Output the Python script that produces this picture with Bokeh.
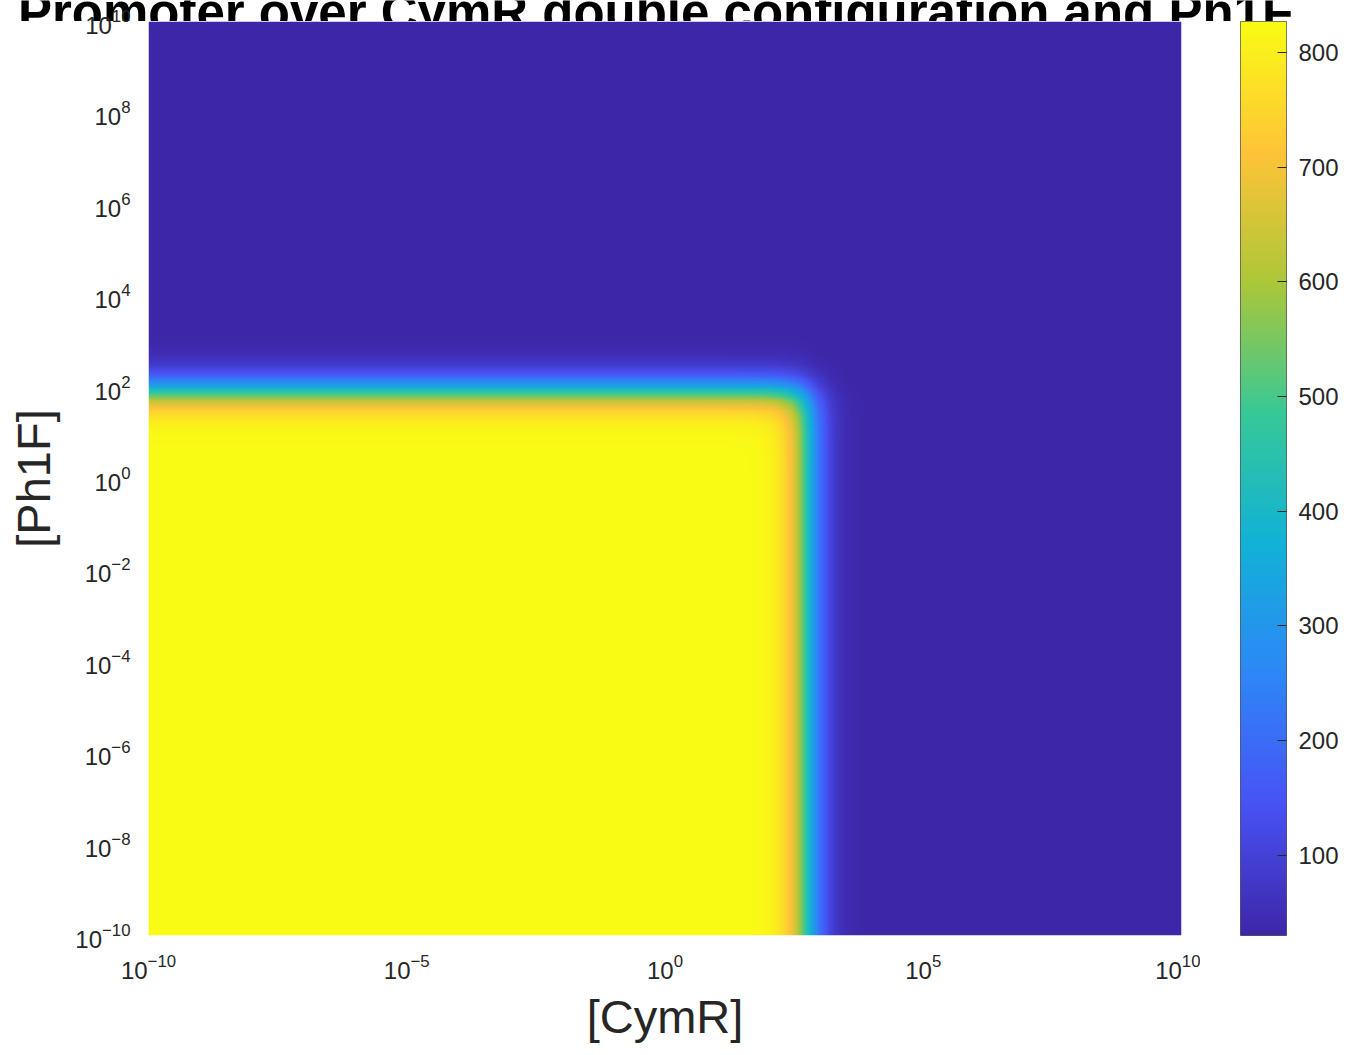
import numpy as np
from bokeh.plotting import figure
from bokeh.models import (LinearColorMapper, FixedTicker, LogTickFormatter,
                          Label, Range1d)
from bokeh.layouts import row, column
from bokeh.embed import file_html
from bokeh.resources import INLINE

# ---------------- data / text ----------------
TITLE = "Promoter over CymR double configuration and Ph1F"
X_LABEL = "[CymR]"
Y_LABEL = "[Ph1F]"

x_ticks = [1e-10, 1e-5, 1e0, 1e5, 1e10]
y_ticks = [1e-10, 1e-8, 1e-6, 1e-4, 1e-2, 1e0, 1e2, 1e4, 1e6, 1e8, 1e10]
cbar_ticks = [100, 200, 300, 400, 500, 600, 700, 800]

conc_min = 1e-10
conc_max = 1e10

# repression model parameters
out_min = 30.0        # fully repressed output
out_max = 827.0       # fully active output
cymr_K = 10 ** 2.77   # CymR half-repression concentration
cymr_n = 2.2          # CymR Hill coefficient
ph1f_K = 10 ** 1.93   # Ph1F half-repression concentration
ph1f_n = 2.0          # Ph1F Hill coefficient
n_grid = 500

# parula colormap anchors
parula_anchors = [
    (0.2422, 0.1504, 0.6603),
    (0.2810, 0.3228, 0.9579),
    (0.1786, 0.5289, 0.9682),
    (0.0689, 0.6948, 0.8394),
    (0.2161, 0.7843, 0.5923),
    (0.6720, 0.7793, 0.2227),
    (0.9970, 0.7659, 0.2199),
    (0.9769, 0.9839, 0.0805),
]

# ---------------- palette ----------------
anch = np.array(parula_anchors)
pos = np.linspace(0, 1, len(anch))
tt = np.linspace(0, 1, 256)
palette = []
for t in tt:
    r = np.interp(t, pos, anch[:, 0])
    g = np.interp(t, pos, anch[:, 1])
    b = np.interp(t, pos, anch[:, 2])
    palette.append("#%02x%02x%02x" % (int(round(r * 255)), int(round(g * 255)), int(round(b * 255))))

# ---------------- field ----------------
cymr = np.logspace(np.log10(conc_min), np.log10(conc_max), n_grid)
ph1f = np.logspace(np.log10(conc_min), np.log10(conc_max), n_grid)
C, P = np.meshgrid(cymr, ph1f)
Z = out_min + (out_max - out_min) / (1.0 + (C / cymr_K) ** cymr_n) / (1.0 + (P / ph1f_K) ** ph1f_n)

mapper = LinearColorMapper(palette=palette, low=out_min, high=out_max)

TXT = "#262626"
FONT = "Liberation Sans"

STRIP_H = 21      # visible strip holding the (cropped) title
OVERLAP = 13      # the plot row slides up under the title strip by this much
ROW_H = 1030 + OVERLAP

# ---------------- title strip (title is cropped at the top, as in the reference) ----------------
strip = figure(width=1341, height=STRIP_H, x_range=Range1d(0, 1341), y_range=Range1d(0, STRIP_H),
               output_backend="svg", toolbar_location=None,
               x_axis_location=None, y_axis_location=None,
               min_border_left=0, min_border_right=0, min_border_top=0, min_border_bottom=0)
strip.outline_line_color = None
strip.grid.visible = False
strip.border_fill_color = None
strip.background_fill_color = None
strip.add_layout(Label(x=655, y=9, text=TITLE, text_align="center", text_baseline="alphabetic",
                       text_font=FONT, text_font_style="bold", text_font_size="51px",
                       text_color="black"))

# ---------------- main heat map ----------------
p = figure(width=1200, height=ROW_H, x_axis_type="log", y_axis_type="log",
           x_range=Range1d(conc_min, conc_max), y_range=Range1d(conc_min, conc_max),
           output_backend="svg", toolbar_location=None,
           min_border_left=148, min_border_right=19, min_border_top=OVERLAP, min_border_bottom=116)
p.image(image=[Z], x=conc_min, y=conc_min, dw=conc_max - conc_min, dh=conc_max - conc_min,
        color_mapper=mapper)
p.grid.visible = False
p.outline_line_color = None
p.border_fill_color = None
p.background_fill_color = None

for ax, ticks, lab in ((p.xaxis[0], x_ticks, X_LABEL), (p.yaxis[0], y_ticks, Y_LABEL)):
    ax.ticker = FixedTicker(ticks=ticks, minor_ticks=[])
    ax.formatter = LogTickFormatter()
    ax.axis_line_color = None
    ax.major_tick_line_color = None
    ax.minor_tick_line_color = None
    ax.major_label_text_font = FONT
    ax.major_label_text_font_size = "24px"
    ax.major_label_text_color = TXT
    ax.axis_label = lab
    ax.axis_label_text_font = FONT
    ax.axis_label_text_font_size = "47px"
    ax.axis_label_text_font_style = "normal"
    ax.axis_label_text_color = TXT

p.xaxis[0].major_label_standoff = 12
p.xaxis[0].axis_label_standoff = 8
p.yaxis[0].major_label_standoff = 12
p.yaxis[0].axis_label_standoff = 12
p.yaxis[0].major_label_orientation = "horizontal"

# ---------------- colour bar ----------------
bar_vals = np.linspace(out_min, out_max, 512).reshape(-1, 1)
cb = figure(width=141, height=ROW_H, x_range=Range1d(0, 1), y_range=Range1d(out_min, out_max),
            output_backend="svg", toolbar_location=None, y_axis_location="right",
            min_border_left=40, min_border_right=50, min_border_top=OVERLAP, min_border_bottom=116)
cb.image(image=[bar_vals], x=0, y=out_min, dw=1, dh=out_max - out_min, color_mapper=mapper)
cb.grid.visible = False
cb.xaxis.visible = False
cb.outline_line_color = "#555555"
cb.outline_line_width = 1
cb.border_fill_color = None
cb.background_fill_color = None
yax = cb.yaxis[0]
yax.ticker = FixedTicker(ticks=cbar_ticks, minor_ticks=[])
yax.axis_line_color = None
yax.major_tick_in = 9
yax.major_tick_out = 0
yax.major_tick_line_color = TXT
yax.major_tick_line_width = 1
yax.minor_tick_line_color = None
yax.major_label_text_font = FONT
yax.major_label_text_font_size = "24px"
yax.major_label_text_color = TXT
yax.major_label_standoff = 12

plots = row(p, cb, margin=(-OVERLAP, 0, 0, 0))
layout = column(strip, plots)
open("out.html", "w").write(file_html(layout, INLINE))
